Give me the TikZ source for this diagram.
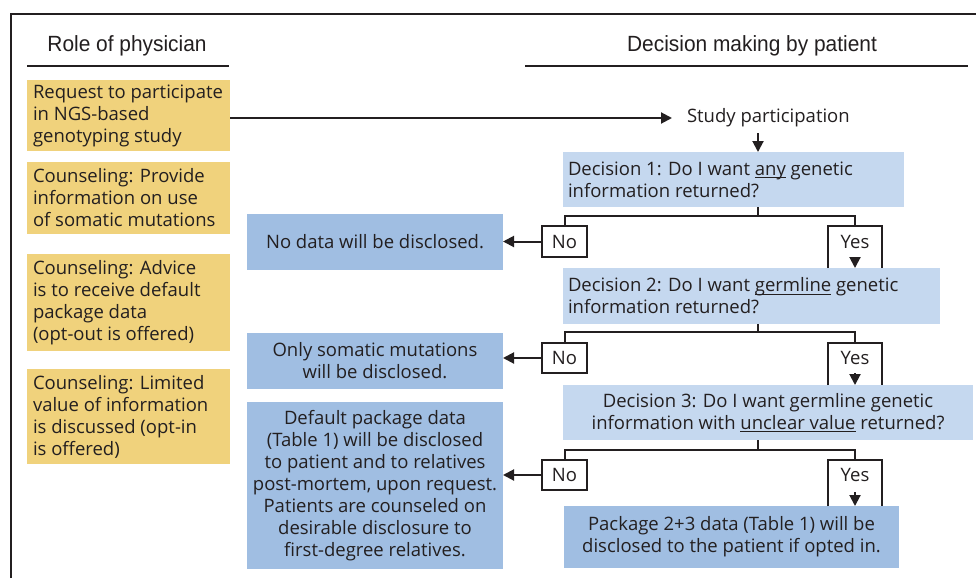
\documentclass[tikz,border=0pt]{standalone}
\usepackage{fontspec}
\setmainfont{Open Sans}
\newfontfamily\hdfont[FakeStretch=0.95]{Liberation Sans}
\usetikzlibrary{arrows.meta}
\definecolor{ink}{HTML}{231F20}
\definecolor{yfill}{HTML}{F0D27C}
\definecolor{dfill}{HTML}{C5D8EF}
\definecolor{ofill}{HTML}{A0BEE2}
\newcommand\ulx[1]{\setbox0\hbox{#1}\rlap{\rule[-2.8pt]{\wd0}{0.9pt}}\box0\relax}
\begin{document}
\begin{tikzpicture}[x=1pt,y=-1pt,
  font=\fontsize{18.5}{22}\selectfont, text=ink,
  every node/.style={inner sep=0pt, outer sep=0pt},
  physbox/.style={fill=yfill, anchor=north west, minimum width=203pt},
  decbox/.style={fill=dfill, anchor=north west},
  outbox/.style={fill=ofill, anchor=north west, minimum width=256pt, align=center},
  nobox/.style={draw=ink, line width=2pt, fill=white, anchor=north west, minimum width=45pt},
  yesbox/.style={anchor=north west, minimum width=54pt},
  lefttext/.style={anchor=west, align=left},
  hdr/.style={font=\hdfont\fontsize{22}{26}\selectfont},
  conn/.style={draw=ink, line width=2pt},
  arr/.style={conn, -{Triangle[length=11pt,width=11pt]}},
  rule/.style={draw=ink, line width=1.5pt}
]
\useasboundingbox[fill=white] (0,0) rectangle (976,578);

% frame and headers
\draw[rule] (11,578) -- (11,14) -- (976,14);
\node[hdr] (hphys) at (127,46) {Role of physician};
\node[hdr] (hpat) at (752,46) {Decision making by patient};
\draw[rule] (27,66) -- (229,66);
\draw[rule] (525,66) -- (968,66);

% physician boxes
\node[physbox, minimum height=71pt] (y1) at (27,80) {};
\node[lefttext] (y1t) at ([xshift=6pt]y1.west) {Request to participate\\in NGS-based\\genotyping study};
\node[physbox, minimum height=72pt] (y2) at (27,162) {};
\node[lefttext] (y2t) at ([xshift=6pt]y2.west) {Counseling: Provide\\information on use\\of somatic mutations};
\node[physbox, minimum height=97pt] (y3) at (27,254) {};
\node[lefttext] (y3t) at ([xshift=6pt]y3.west) {Counseling: Advice\\is to receive default\\package data\\(opt-out is offered)};
\node[physbox, minimum height=95pt] (y4) at (27,369) {};
\node[lefttext] (y4t) at ([xshift=6pt]y4.west) {Counseling: Limited\\value of information\\is discussed (opt-in\\is offered)};

% study participation
\node[anchor=west] (study) at (687,118) {Study participation};

% decision boxes
\node[decbox, minimum width=341pt, minimum height=55pt] (d1) at (563,152) {};
\node[lefttext] (d1t) at ([xshift=5pt]d1.west) {Decision 1: Do I want \ulx{any} genetic\\information returned?};
\node[decbox, minimum width=377pt, minimum height=56pt] (d2) at (563,268) {};
\node[lefttext] (d2t) at ([xshift=5pt]d2.west) {Decision 2: Do I want \ulx{germline} genetic\\information returned?};
\node[decbox, minimum width=410pt, minimum height=55pt, align=center] (d3) at (563,385)
  {Decision 3: Do I want germline genetic\\information with \ulx{unclear value} returned?};
\node[outbox, minimum width=335pt, minimum height=62pt] (pkg) at (564,506)
  {Package 2+3 data (Table 1) will be\\disclosed to the patient if opted in.};

% outcome boxes
\node[outbox, minimum height=56pt] (o1) at (247,214) {No data will be disclosed.};
\node[outbox, minimum height=56pt] (o2) at (247,333) {Only somatic mutations\\will be disclosed.};
\node[outbox, minimum height=167pt] (o3) at (247,402)
  {Default package data\\(Table 1) will be disclosed\\to patient and to relatives\\post-mortem, upon request.\\Patients are counseled on\\desirable disclosure to\\first-degree relatives.};

% yes / no boxes
\node[nobox, minimum height=31pt] (no1) at (542,226) {No};
\node[nobox, minimum height=30pt] (no2) at (542,343) {No};
\node[nobox, minimum height=30pt] (no3) at (542,460) {No};
\node[yesbox, minimum height=31pt] (yes1) at (828,226) {Yes};
\node[yesbox, minimum height=30pt] (yes2) at (828,343) {Yes};
\node[yesbox, minimum height=30pt] (yes3) at (828,460) {Yes};

% branch points
\coordinate (k1) at (758,216);
\coordinate (k2) at (758,332);
\coordinate (k3) at (758,450);

% connectors
\draw[arr, shorten >=15pt] (y1.east |- study.west) -- (study.west);
\draw[arr, shorten <=6pt] (k1 |- study.south) -- (k1 |- d1.north);

\draw[conn] (k1 |- d1.south) -- (k1);
\draw[conn] (no1.north) -- (no1.north |- k1) -- (yes1.north |- k1) -- (yes1.north);
\draw[conn] (yes1.south west |- d2.north) -- (yes1.north west) -- (yes1.north east) -- (yes1.south east |- d2.north);
\draw[arr, shorten <=3pt] (yes1.south) -- (yes1.south |- d2.north);
\draw[arr] (no1.west) -- (no1.west -| o1.east);

\draw[conn] (k2 |- d2.south) -- (k2);
\draw[conn] (no2.north) -- (no2.north |- k2) -- (yes2.north |- k2) -- (yes2.north);
\draw[conn] (yes2.south west |- d3.north) -- (yes2.north west) -- (yes2.north east) -- (yes2.south east |- d3.north);
\draw[arr] (yes2.south) -- (yes2.south |- d3.north);
\draw[arr] (no2.west) -- (no2.west -| o2.east);

\draw[conn] (k3 |- d3.south) -- (k3);
\draw[conn] (no3.north) -- (no3.north |- k3) -- (yes3.north |- k3) -- (yes3.north);
\draw[conn] (yes3.south west |- pkg.north) -- (yes3.north west) -- (yes3.north east) -- (yes3.south east |- pkg.north);
\draw[arr, shorten <=2pt] (yes3.south) -- (yes3.south |- pkg.north);
\draw[arr] (no3.west) -- (no3.west -| o3.east);
\end{tikzpicture}
\end{document}
